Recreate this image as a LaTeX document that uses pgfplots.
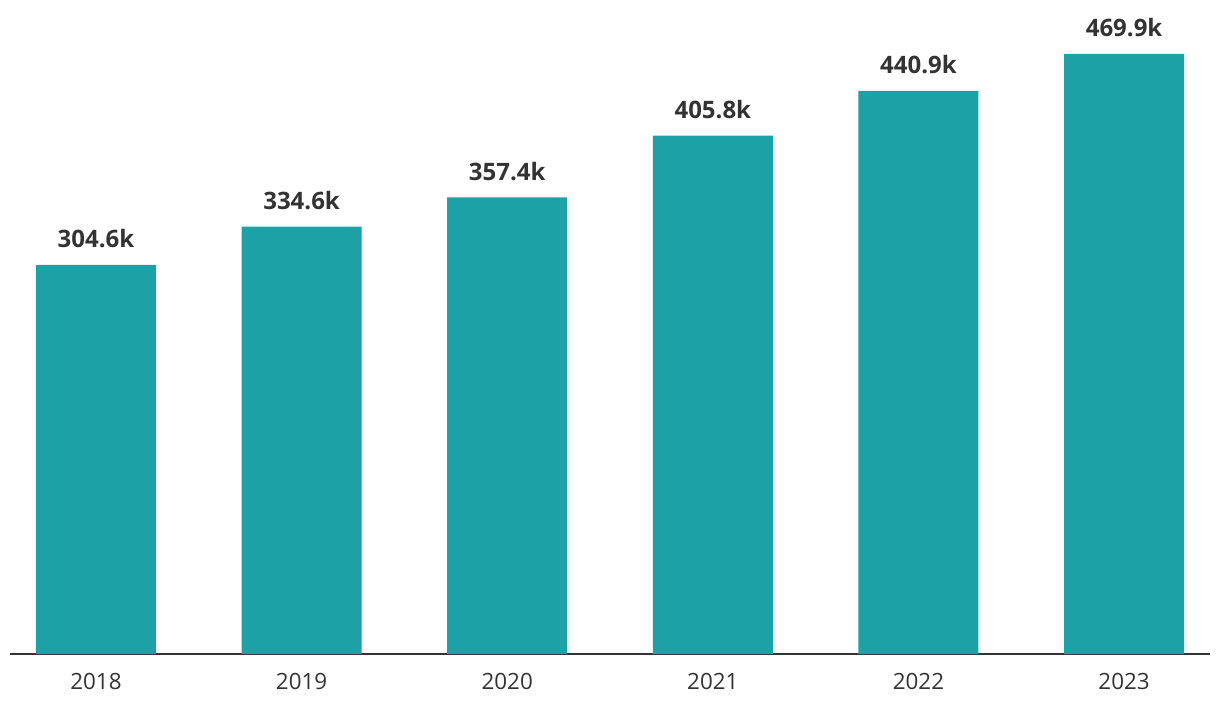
\documentclass[border=0pt]{standalone}
\usepackage{fontspec}
\setmainfont{Open Sans}
\usepackage{pgfplots}
\pgfplotsset{compat=1.18}
\definecolor{barteal}{HTML}{1CA2A6}
\definecolor{txt}{HTML}{333333}
\begin{document}
\begin{tikzpicture}
\begin{axis}[
  at={(5pt,32pt)}, anchor=south west,
  scale only axis, width=600pt, height=327pt,
  xmin=-0.418, xmax=5.418, ymin=0, ymax=512,
  axis x line*=bottom, axis y line=none,
  x axis line style={line width=1pt, color=txt, -},
  xtick=data, xticklabels={2018,2019,2020,2021,2022,2023},
  xtick style={draw=none},
  xticklabel style={font=\fontsize{11.2pt}{13pt}\selectfont, text=txt, yshift=-2pt},
  ybar, bar width=60pt,
  nodes near coords={\pgfmathprintnumber[fixed,precision=1,fixed zerofill,assume math mode=true]{\pgfplotspointmeta}k},
  nodes near coords style={font=\bfseries\fontsize{12pt}{14pt}\selectfont, text=txt, anchor=south, yshift=5pt},
  clip=false,
]
\addplot[fill=barteal, draw=none] coordinates {
  (0,304.6) (1,334.6) (2,357.4) (3,405.8) (4,440.9) (5,469.9)
};
\end{axis}
\path (0,0) rectangle (610pt,359pt);
\end{tikzpicture}
\end{document}
